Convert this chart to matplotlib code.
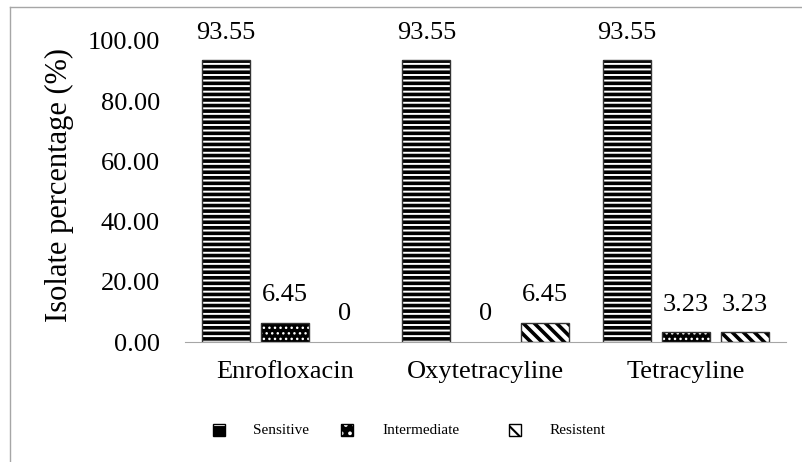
import matplotlib.pyplot as plt
import numpy as np
from matplotlib.patches import Rectangle

plt.rcParams['font.family'] = ['Liberation Serif', 'DejaVu Serif']

# data
drugs = ['Enrofloxacin', 'Oxytetracyline', 'Tetracyline']
sensitive = [93.55, 93.55, 93.55]
intermediate = [6.45, 0, 3.23]
resistent = [0, 6.45, 3.23]
y_ticks = [0, 20, 40, 60, 80, 100]

fig = plt.figure(figsize=(8.02, 4.62), dpi=100)
ax = fig.add_axes([0.2307, 0.2597, 0.7493, 0.6516])

x = np.arange(len(drugs))
w = 0.24
step = 0.295

# name, values, offset, face, hatch colour, bar hatch, hatch width, legend hatch
series = [
    ('Sensitive', sensitive, -step, 'black', 'white', '---', 1.4, '-'),
    ('Intermediate', intermediate, 0, 'black', 'white', '...', 1.0, '..'),
    ('Resistent', resistent, step, 'white', 'black', '\\\\\\', 2.6, '\\\\'),
]

for name, vals, off, fc, hc, hatch, hlw, lh in series:
    with plt.rc_context({'hatch.linewidth': hlw}):
        bars = ax.bar(x + off, vals, w, color=fc, edgecolor=hc, hatch=hatch, linewidth=0)
    for b, v in zip(bars, vals):
        if v > 0:
            ax.add_patch(Rectangle((b.get_x(), 0), b.get_width(), v, fill=False,
                                   edgecolor='#333333', linewidth=1))
        lab = '0' if v == 0 else f'{v:.2f}'
        ax.annotate(lab, (b.get_x() + b.get_width() / 2, v), xytext=(0, 12),
                    textcoords='offset points', ha='center', va='bottom',
                    fontsize=19, clip_on=False)

ax.set_xlim(-0.5, 2.5)
ax.set_ylim(0, 100)
ax.set_yticks(y_ticks)
ax.set_yticklabels([f'{t:.2f}' for t in y_ticks], fontsize=19)
ax.set_xticks(x)
ax.set_xticklabels(drugs, fontsize=19)
ax.tick_params(axis='both', length=0)
ax.tick_params(axis='y', pad=18)
ax.tick_params(axis='x', pad=14)
for s in ['top', 'right', 'left']:
    ax.spines[s].set_visible(False)
ax.spines['bottom'].set_color('#a6a6a6')
ax.set_ylabel('Isolate percentage (%)', fontsize=22)
ax.yaxis.set_label_coords(-0.185, 0.52)

# legend drawn by hand to match the uneven spacing
leg_x = [213, 341, 509]
txt_x = [253, 382, 550]
for (name, vals, off, fc, hc, hatch, hlw, lh), mx, tx in zip(series, leg_x, txt_x):
    with plt.rc_context({'hatch.linewidth': 1.5}):
        fig.add_artist(Rectangle((mx / 802, 1 - 436 / 462), 12 / 802, 12 / 462,
                                 facecolor=fc, edgecolor=hc, hatch=lh,
                                 linewidth=0, transform=fig.transFigure))
    fig.add_artist(Rectangle((mx / 802, 1 - 436 / 462), 12 / 802, 12 / 462, fill=False,
                             edgecolor='black', linewidth=1, transform=fig.transFigure))
    fig.text(tx / 802, 1 - 430 / 462, name, fontsize=11, va='center', ha='left')

# outer chart-area border (left and top only visible)
fig.add_artist(plt.Line2D([10 / 802, 10 / 802], [0, 1 - 7 / 462], color='#a6a6a6', lw=1))
fig.add_artist(plt.Line2D([10 / 802, 1], [1 - 7 / 462, 1 - 7 / 462], color='#a6a6a6', lw=1))

fig.savefig('out.png', dpi=100)
